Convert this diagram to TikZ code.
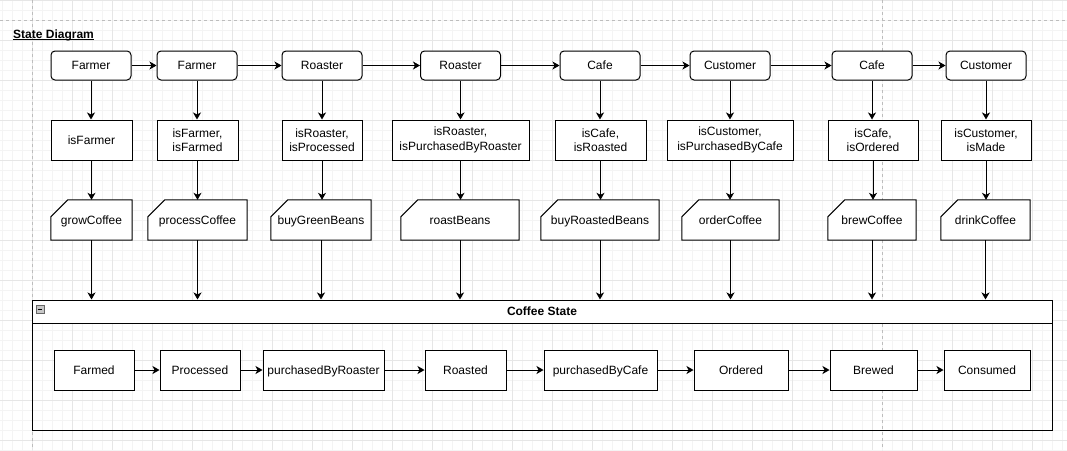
\documentclass[tikz,border=0pt]{standalone}
\usepackage{fontspec}
\setmainfont{Liberation Sans}
\usetikzlibrary{arrows.meta}
\pgfdeclarelayer{gridlayer}
\pgfdeclarelayer{background}
\pgfsetlayers{gridlayer,background,main}
\definecolor{gridminor}{HTML}{F4F4F4}
\definecolor{gridmajor}{HTML}{E6E6E6}
\definecolor{pageline}{HTML}{BDBDBD}
\newlength\cutsz
\setlength\cutsz{17pt}
\tikzset{
  boxline/.style={draw=black, line width=1pt},
  txt/.style={font=\fontsize{12}{14.4}\selectfont, align=center, inner sep=0pt},
  oneline/.style={text height=8.6pt, text depth=0pt},
  topbox/.style={txt, oneline, boxline, fill=white, rounded corners=4pt, minimum width=80pt, minimum height=29pt},
  condbox/.style={txt, boxline, fill=white, minimum height=40pt},
  cardtext/.style={txt, oneline, minimum height=40pt},
  statebox/.style={txt, oneline, boxline, fill=white, minimum height=40pt},
  conn/.style={line width=1pt, -{Stealth[length=7pt,width=8pt,inset=2pt]}},
}
\newcommand\cardnode[5]{%
  \node[cardtext, minimum width=#4] (#1) at (#2,#3) {#5};
  \begin{pgfonlayer}{background}
    \draw[boxline, fill=white] (#1.south west) -- ([yshift=-\cutsz]#1.north west)
      -- ([xshift=\cutsz]#1.north west) -- (#1.north east) -- (#1.south east) -- cycle;
  \end{pgfonlayer}
}
\begin{document}
\begin{tikzpicture}[x=1pt,y=-1pt]
\useasboundingbox (0,0) rectangle (1067,450);
% grid
\begin{pgfonlayer}{gridlayer}
  \fill[white] (0,0) rectangle (1067,450);
  \foreach \x in {2,12,...,1062} \draw[gridminor, line width=1pt] (\x,0) -- (\x,450);
  \foreach \y in {0,10,...,450} \draw[gridminor, line width=1pt] (0,\y) -- (1067,\y);
  \foreach \x in {32,72,...,1062} \draw[gridmajor, line width=1pt] (\x,0) -- (\x,450);
  \foreach \y in {0,40,...,450} \draw[gridmajor, line width=1pt] (0,\y) -- (1067,\y);
  \draw[pageline, line width=1pt, dash pattern=on 3pt off 3pt] (32,0) -- (32,450);
  \draw[pageline, line width=1pt, dash pattern=on 3pt off 3pt] (882,0) -- (882,450);
  \draw[pageline, line width=1pt, dash pattern=on 3pt off 3pt] (0,20) -- (1067,20);
\end{pgfonlayer}

\node[anchor=base west, inner sep=0pt, font=\fontsize{12}{14}\selectfont\bfseries] (title) at (13,38) {State Diagram};
\draw[line width=1pt] ([yshift=-1.5pt]title.base west) -- ([yshift=-1.5pt]title.base east);

% top row
\node[topbox] (t1) at (91,65.5) {Farmer};
\node[topbox] (t2) at (197,65.5) {Farmer};
\node[topbox] (t3) at (322,65.5) {Roaster};
\node[topbox] (t4) at (460.5,65.5) {Roaster};
\node[topbox] (t5) at (600,65.5) {Cafe};
\node[topbox] (t6) at (730,65.5) {Customer};
\node[topbox] (t7) at (872,65.5) {Cafe};
\node[topbox] (t8) at (986,65.5) {Customer};

% condition row
\node[condbox, oneline, minimum width=81pt] (s1) at (91.5,140) {isFarmer};
\node[condbox, minimum width=81pt] (s2) at (197.5,140) {isFarmer,\\isFarmed};
\node[condbox, minimum width=80pt] (s3) at (322,140) {isRoaster,\\isProcessed};
\node[condbox, minimum width=137pt] (s4) at (460.5,140) {isRoaster,\\isPurchasedByRoaster};
\node[condbox, minimum width=91pt] (s5) at (600.5,140) {isCafe,\\isRoasted};
\node[condbox, minimum width=126pt] (s6) at (730,140) {isCustomer,\\isPurchasedByCafe};
\node[condbox, minimum width=90pt] (s7) at (873,140) {isCafe,\\isOrdered};
\node[condbox, minimum width=90pt] (s8) at (986,140) {isCustomer,\\isMade};

% action row
\cardnode{c1}{91.5}{220}{81pt}{growCoffee}
\cardnode{c2}{197.5}{220}{99pt}{processCoffee}
\cardnode{c3}{321}{220}{100pt}{buyGreenBeans}
\cardnode{c4}{460}{220}{118pt}{roastBeans}
\cardnode{c5}{600}{220}{118pt}{buyRoastedBeans}
\cardnode{c6}{730.5}{220}{97pt}{orderCoffee}
\cardnode{c7}{872}{220}{88pt}{brewCoffee}
\cardnode{c8}{985.5}{220}{89pt}{drinkCoffee}

% container
\node[boxline, fill=white, minimum width=1020pt, minimum height=23pt, inner sep=0pt,
      text height=8.6pt, text depth=0pt,
      font=\fontsize{12}{14}\selectfont\bfseries] (hdr) at (542,311.5) {Coffee State};
\node[boxline, minimum width=1020pt, minimum height=107pt, inner sep=0pt] (cont) at (542,376.5) {};
\node[draw=black!60, fill=black!22, minimum size=8pt, inner sep=0pt] (minus) at (40,309) {};
\draw[black, line width=1pt] ([xshift=2pt]minus.west) -- ([xshift=-2pt]minus.east);

% state row
\node[statebox, minimum width=80pt] (b1) at (94,370) {Farmed};
\node[statebox, minimum width=80pt] (b2) at (200,370) {Processed};
\node[statebox, minimum width=121pt] (b3) at (323.5,370) {purchasedByRoaster};
\node[statebox, minimum width=81pt] (b4) at (465.5,370) {Roasted};
\node[statebox, minimum width=113pt] (b5) at (600.5,370) {purchasedByCafe};
\node[statebox, minimum width=94pt] (b6) at (741,370) {Ordered};
\node[statebox, minimum width=87pt] (b7) at (873.5,370) {Brewed};
\node[statebox, minimum width=86pt] (b8) at (987,370) {Consumed};

% connectors
\foreach \a/\b in {t1/t2,t2/t3,t3/t4,t4/t5,t5/t6,t6/t7,t7/t8,b1/b2,b2/b3,b3/b4,b4/b5,b5/b6,b6/b7,b7/b8}
  \draw[conn] (\a.east) -- (\b.west);
\foreach \i in {1,...,8} {
  \draw[conn] (t\i.south) -- (t\i.south |- s\i.north);
  \draw[conn] (s\i.south) -- (s\i.south |- c\i.north);
  \draw[conn] (c\i.south) -- (c\i.south |- hdr.north);
}
\end{tikzpicture}
\end{document}
